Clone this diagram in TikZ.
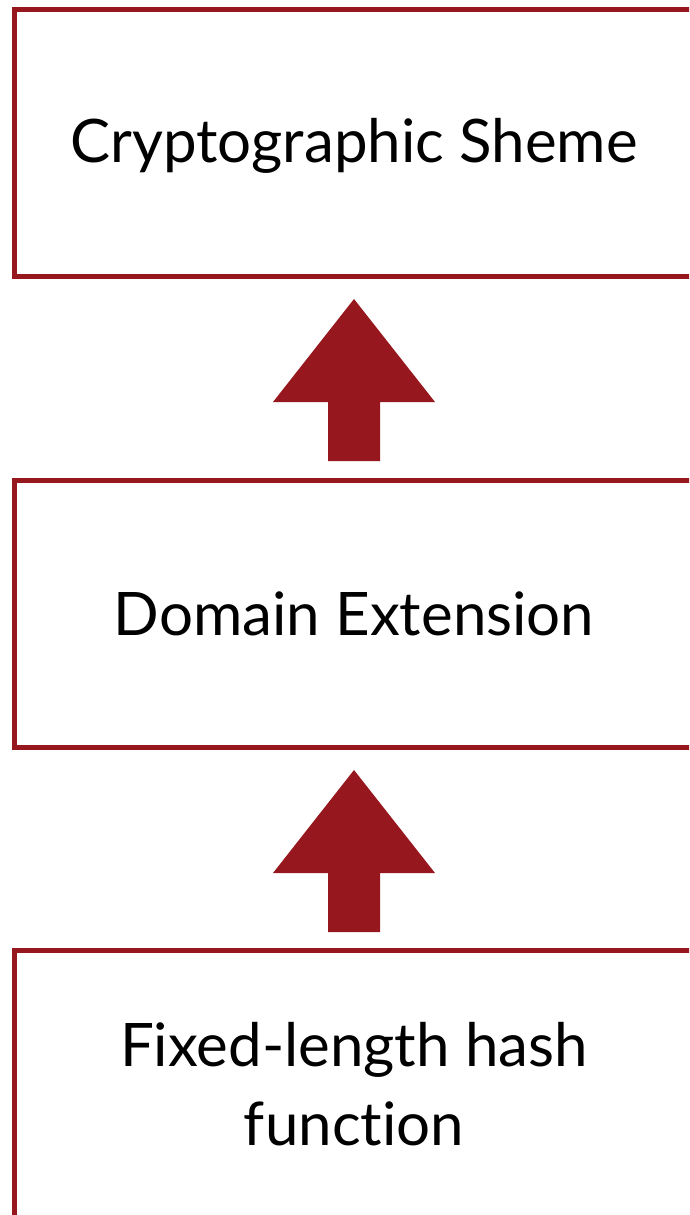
\documentclass[tikz,border=0pt]{standalone}
\usepackage{fontspec}
\setmainfont[Ligatures=NoCommon]{Lato}
\usetikzlibrary{calc}
\definecolor{brick}{RGB}{150,24,30}
\tikzset{
  layer/.style={draw=brick, line width=5pt, fill=white,
    minimum width=680pt, minimum height=267pt, inner sep=0pt,
    align=center, font=\fontsize{60}{79}\selectfont},
  blockarrow/.style={fill=brick, draw=none}
}
% filled up-arrow between a lower box (#1) and an upper box (#2)
\newcommand\liftarrow[2]{%
  \fill[blockarrow] ($(#2.south)+(0,20)$) -- ++(81,103) -- ++(-55,0)
    -- ++(0,59) -- ++(-52,0) -- ++(0,-59) -- ++(-55,0) -- cycle;}
\begin{document}
\begin{tikzpicture}[x=1pt, y=-1pt]
  \useasboundingbox (0,0) rectangle (689,1215);
  \clip (0,0) rectangle (689,1215);
  \node[layer] (scheme) at (354,143) {\raisebox{-3pt}[\height][\depth]{Cryptographic Sheme}};
  \node[layer] (domain) at (354,614) {Domain Extension};
  \node[layer] (fixed) at (354,1084) {Fixed-length hash\\function};
  \liftarrow{domain}{scheme}
  \liftarrow{fixed}{domain}
\end{tikzpicture}
\end{document}
